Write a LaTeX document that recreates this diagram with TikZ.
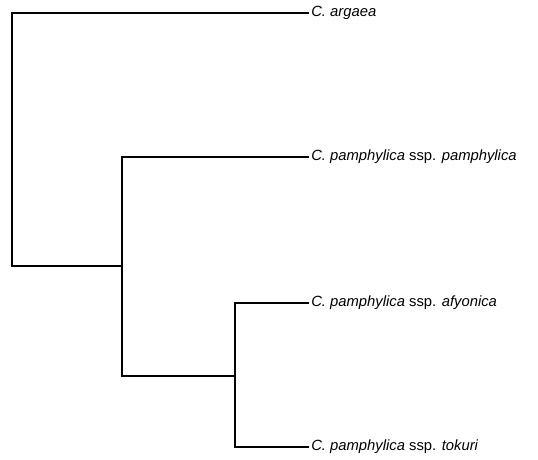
\documentclass[tikz,border=0pt]{standalone}
\usepackage{fontspec}
\setmainfont{Liberation Sans}
\usetikzlibrary{positioning}

\begin{document}
\begin{tikzpicture}[x=1pt, y=-1pt, line width=1.6pt]
    % Style for the leaf labels and branches
    \tikzstyle{leaf node}=[anchor=west, inner sep=2.5pt, font=\fontsize{14.8}{17}\selectfont]
    \tikzstyle{branch}=[draw, line cap=rect]

    \useasboundingbox (0,0) rectangle (538,460);

    % Internal nodes of the tree
    \coordinate (root) at (12,266);
    \coordinate (n1) at (122,376);
    \coordinate (n2) at (235,376);

    % Leaf labels
    \node[leaf node] (argaea) at (308,13) {\textit{C. argaea}};
    \node[leaf node] (pamph) at (308,157) {\textit{C. pamphylica} ssp. \textit{pamphylica}};
    \node[leaf node] (afyon) at (308,303) {\textit{C. pamphylica} ssp. \textit{afyonica}};
    \node[leaf node] (tokuri) at (308,447) {\textit{C. pamphylica} ssp. \textit{tokuri}};

    % Draw the branches
    \draw[branch] (argaea.west) -| (root) -- (n1 |- root);
    \draw[branch] (pamph.west) -| (n1 |- root) |- (n2);
    \draw[branch] (afyon.west) -| (n2) |- (tokuri.west);

\end{tikzpicture}
\end{document}
